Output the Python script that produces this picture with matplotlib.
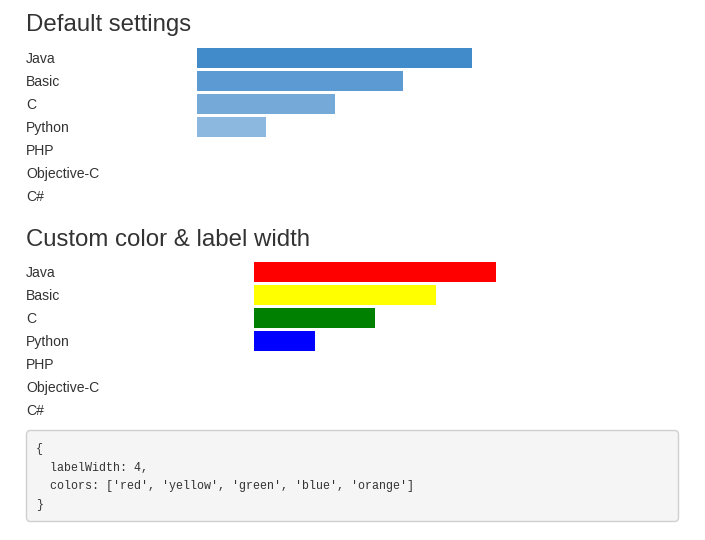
import matplotlib.pyplot as plt
from matplotlib.patches import FancyBboxPatch

# data
languages = ["Java", "Basic", "C", "Python", "PHP", "Objective-C", "C#"]
values = [4, 3, 2, 1, 0, 0, 0]
default_colors = ["#428bca", "#5b9ad3", "#74a9d8", "#8cb7de"]
custom_colors = ["red", "yellow", "green", "blue", "orange"]
titles = ["Default settings", "Custom color & label width"]
code_lines = [
    "{",
    "  labelWidth: 4,",
    "  colors: ['red', 'yellow', 'green', 'blue', 'orange']",
    "}",
]

W, H = 705, 540
TEXT = "#333333"
SANS = "Liberation Sans"
MONO = "Liberation Mono"

fig = plt.figure(figsize=(W / 100, H / 100), dpi=100)

# full-figure overlay in pixel coordinates for titles and the code box
bg = fig.add_axes([0, 0, 1, 1])
bg.set_xlim(0, W)
bg.set_ylim(H, 0)
bg.axis("off")


def px_axes(left, top, width, height):
    return fig.add_axes([left / W, 1 - (top + height) / H, width / W, height / H])


def bar_block(title, title_y, first_row_y, bar_left, bar_width, colors):
    bg.text(26, title_y, title, fontsize=17.3, color=TEXT, family=SANS,
            va="center", ha="left")
    row = 23
    ax = px_axes(bar_left, first_row_y - row / 2, bar_width, row * len(languages))
    ax.set_xlim(0, max(values))
    ax.set_ylim(len(languages) - 0.5, -0.5)
    cols = [colors[i % len(colors)] for i in range(len(languages))]
    ax.barh(range(len(languages)), values, height=20 / 23, color=cols,
            left=0, linewidth=0)
    ax.axis("off")
    for i, name in enumerate(languages):
        ax.annotate(name, xy=(26, i), xycoords=("figure pixels", "data"),
                    xytext=(0, -0.8), textcoords="offset points",
                    fontsize=10.1, color=TEXT, family=SANS,
                    va="center", ha="left")
    return ax


bar_block(titles[0], 25, 58, 197, 275, default_colors)
bar_block(titles[1], 240, 272, 254, 242, custom_colors)

# code box
box = FancyBboxPatch((26.5, 430.5), 652, 91, boxstyle="round,pad=0,rounding_size=4",
                     facecolor="#f5f5f5", edgecolor="#d0d0d0", linewidth=1)
bg.add_patch(box)
for i, line in enumerate(code_lines):
    bg.text(36, 449 + 18.7 * i, line, fontsize=8.4, color=TEXT, family=MONO,
            va="center", ha="left")

fig.savefig("out.png", dpi=100, facecolor="white")
